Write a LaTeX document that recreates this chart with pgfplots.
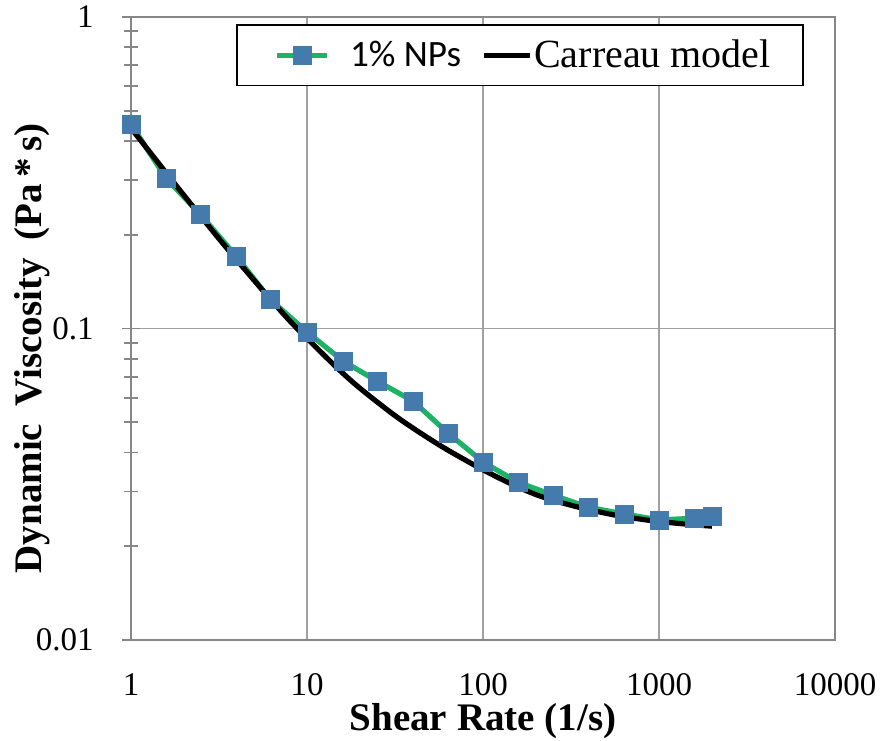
\documentclass[border=0pt]{standalone}
\usepackage{pgfplots}
\pgfplotsset{compat=1.18}
\usepackage{fontspec}
\setmainfont{Liberation Serif}
\newfontfamily\calibri{Carlito}
\usetikzlibrary{calc}

\definecolor{sgreen}{RGB}{30,178,100}
\definecolor{mblue}{RGB}{68,122,172}
\definecolor{gridgray}{RGB}{160,160,160}
\definecolor{axgray}{RGB}{135,135,135}

\begin{document}
\begin{tikzpicture}
\begin{axis}[
    name=ax,
    scale only axis,
    width=352pt, height=311.5pt,
    xmode=log, ymode=log,
    xmin=1, xmax=10000, ymin=0.01, ymax=1,
    xtick={1,10,100,1000,10000},
    xticklabels={\textrm{1},\textrm{10},\textrm{100},\textrm{1000},\textrm{10000}},
    ytick={0.01,0.1,1},
    yticklabels={\textrm{0.01},\textrm{0.1},\textrm{1}},
    xminorticks=false,
    ytick pos=left,
    xtick style={draw=none},
    tick align=center,
    major tick length=9pt, minor tick length=7pt,
    every tick/.style={axgray, line width=0.9pt},
    grid=major,
    major grid style={gridgray, line width=0.9pt},
    axis line style={axgray, line width=1pt},
    tick label style={font=\fontsize{16.5}{19}\selectfont, inner sep=0pt},
    xticklabel style={anchor=north, yshift=-12pt},
    yticklabel style={anchor=east, xshift=-14pt},
    xlabel={Shear Rate (1/s)},
    ylabel={Dynamic\hspace{0.45em}Viscosity\hspace{0.45em}(Pa\,*\,s)},
    label style={font=\fontsize{19.5}{23}\selectfont\bfseries},
    xlabel style={at={(axis description cs:0.5,-0.1445)}, anchor=base},
    ylabel style={at={(axis description cs:-0.1406,0.468)}, anchor=center},
    legend columns=-1,
    legend style={
      at={(axis description cs:0.149,0.989)}, anchor=north west,
      draw=black, line width=0.9pt, fill=white,
      inner xsep=14pt, inner ysep=5.5pt,
      font=\fontsize{20}{24}\selectfont,
      /tikz/every even column/.append style={column sep=8pt},
      /tikz/every odd column/.append style={column sep=4pt},
    },
]
\addplot[sgreen, line width=2.6pt, mark=square*, mark size=4.5pt,
    mark options={fill=mblue, draw=mblue, line width=0.4pt},
    legend image code/.code={\path (0pt,0pt);
      \draw[mark repeat=2,mark phase=2] plot coordinates {(5pt,0pt) (17.5pt,0pt) (30pt,0pt)};}]
  coordinates {
    (1,0.453) (1.58,0.304) (2.47,0.233) (3.95,0.171) (6.17,0.124)
    (10,0.0975) (16,0.0787) (25,0.0678) (40,0.0585) (63.2,0.0462)
    (100,0.0373) (158,0.0321) (250,0.0292) (395,0.0267) (632,0.0254)
    (1000,0.0243) (1580,0.0246) (2000,0.0250)
  };
\addlegendentry{\hspace{4pt}{\calibri\fontsize{18.6}{22}\selectfont 1\% NPs}}
\addplot[black, line width=2.6pt, smooth,
    legend image code/.code={\draw plot coordinates {(0pt,0pt) (23pt,0pt)};}]
  coordinates {
    (1,0.44) (1.5,0.3286) (2,0.2676) (3,0.2014) (4,0.1657) (6,0.1268)
    (8,0.1057) (10,0.093) (15,0.0743) (20,0.0643) (30,0.0537) (40,0.0479)
    (60,0.0414) (100,0.0352) (150,0.0314) (200,0.0293) (250,0.0281)
    (300,0.0273) (400,0.0262) (600,0.0250) (800,0.0244) (1000,0.0240)
    (1500,0.0235) (2000,0.0232)
  };
\addlegendentry{\hspace{-5pt}Carreau model}
\end{axis}
\pgfresetboundingbox
\path[use as bounding box] ($(ax.south west)+(-65.5pt,-50pt)$) rectangle ($(ax.north east)+(23.5pt,8.5pt)$);
\end{tikzpicture}
\end{document}
